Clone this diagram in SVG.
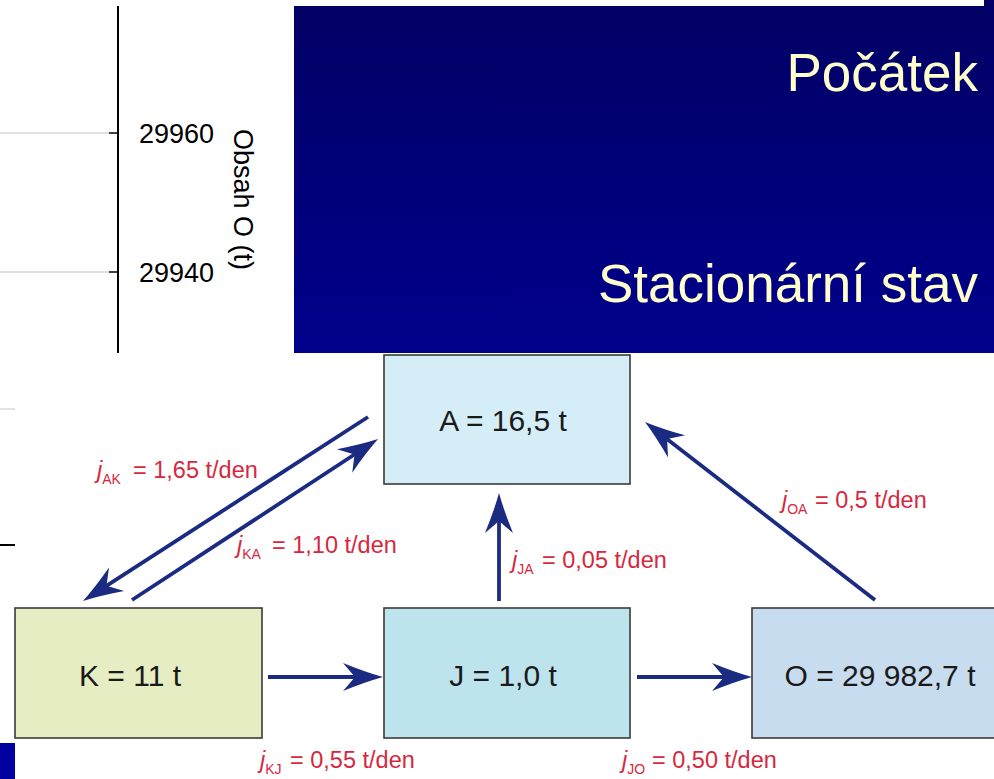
<svg xmlns="http://www.w3.org/2000/svg" width="994" height="779" viewBox="0 0 994 779">
<defs>
<linearGradient id="panelGrad" x1="0" y1="0" x2="0" y2="1">
<stop offset="0" stop-color="#020064"/>
<stop offset="1" stop-color="#00008c"/>
</linearGradient>
<marker id="head" viewBox="-42 -15 44 30" refX="-20" refY="0" markerWidth="44" markerHeight="30" orient="auto" markerUnits="userSpaceOnUse">
<path d="M0,0 Q-18,-5 -40,-14 L-28,0 L-40,14 Q-18,5 0,0 Z" fill="#1c2b82"/>
</marker>
</defs>
<style>
.box{stroke:#3a3a3a;stroke-width:1.6}
.lbl{font-family:"Liberation Sans",Arial,sans-serif;font-size:30px;fill:#1a1a1a;text-anchor:middle}
.flow{font-family:"Liberation Sans",Arial,sans-serif;font-size:23.5px;fill:#d6283e}
.sub{font-size:14px}
.it{font-style:italic}
.arr{stroke:#1c2b82;stroke-width:3.8;fill:none;marker-end:url(#head)}
.ax{font-family:"Liberation Sans",Arial,sans-serif;font-size:27px;fill:#000}
.title{font-family:"Liberation Sans",Arial,sans-serif;font-size:53px;fill:#ffffcc;text-anchor:end}
</style>
<rect width="994" height="779" fill="#ffffff"/>
<g id="chart">
<line x1="0" y1="133" x2="109" y2="133" stroke="#c4c4c4" stroke-width="1.2"/>
<line x1="0" y1="272" x2="109" y2="272" stroke="#c4c4c4" stroke-width="1.2"/>
<line x1="109" y1="133" x2="118" y2="133" stroke="#000" stroke-width="1.5"/>
<line x1="109" y1="272" x2="118" y2="272" stroke="#000" stroke-width="1.5"/>
<line x1="118" y1="6" x2="118" y2="353" stroke="#000" stroke-width="2"/>
<line x1="0" y1="409" x2="15" y2="409" stroke="#d0d0d0" stroke-width="1.2"/>
<line x1="0" y1="545" x2="15" y2="545" stroke="#000" stroke-width="2"/>
<text class="ax" x="139" y="143">29960</text>
<text class="ax" x="139" y="282">29940</text>
<text class="ax" x="234" y="129" font-size="28" transform="rotate(90 234 129)">Obsah O (t)</text>
</g>
<g id="panel">
<rect x="294" y="6" width="700" height="347" fill="url(#panelGrad)"/>
<rect x="984" y="0" width="10" height="6" fill="#020064"/>
<text class="title" x="978" y="91">Počátek</text>
<text class="title" x="978" y="302">Stacionární stav</text>
</g>
<rect x="0" y="743" width="15" height="36" fill="#0000a0"/>
<g id="connectors">
<line class="arr" x1="268" y1="677" x2="363" y2="677"/>
<line class="arr" x1="637" y1="677" x2="732" y2="677"/>
<line class="arr" x1="499" y1="601" x2="499" y2="513"/>
<line class="arr" x1="875" y1="600" x2="660.8" y2="434.2"/>
<line class="arr" x1="368" y1="417" x2="99.8" y2="590.2"/>
<line class="arr" x1="132" y1="600" x2="361.3" y2="450"/>
<text class="flow" x="97" y="478"><tspan class="it">j</tspan><tspan class="sub" dy="6">AK</tspan><tspan x="133" dy="-6">= 1,65 t/den</tspan></text>
<text class="flow" x="237" y="553"><tspan class="it">j</tspan><tspan class="sub" dy="6">KA</tspan><tspan x="272" dy="-6">= 1,10 t/den</tspan></text>
<text class="flow" x="512" y="568"><tspan class="it">j</tspan><tspan class="sub" dy="6">JA</tspan><tspan x="542" dy="-6">= 0,05 t/den</tspan></text>
<text class="flow" x="782" y="508"><tspan class="it">j</tspan><tspan class="sub" dy="6">OA</tspan><tspan x="815" dy="-6">= 0,5 t/den</tspan></text>
<text class="flow" x="260" y="768"><tspan class="it">j</tspan><tspan class="sub" dy="6">KJ</tspan><tspan x="290" dy="-6">= 0,55 t/den</tspan></text>
<text class="flow" x="622" y="768"><tspan class="it">j</tspan><tspan class="sub" dy="6">JO</tspan><tspan x="652" dy="-6">= 0,50 t/den</tspan></text>
</g>
<g id="node-A">
<rect class="box" x="384" y="355" width="246" height="129" fill="#d5edf6"/>
<text class="lbl" x="503" y="431">A = 16,5 t</text>
</g>
<g id="node-K">
<rect class="box" x="15" y="608" width="247" height="130" fill="#e6edc3"/>
<text class="lbl" x="130" y="686">K = 11 t</text>
</g>
<g id="node-J">
<rect class="box" x="384" y="608" width="246" height="130" fill="#bde3ec"/>
<text class="lbl" x="503" y="686">J = 1,0 t</text>
</g>
<g id="node-O">
<rect class="box" x="752" y="608" width="250" height="130" fill="#c7dcef"/>
<text class="lbl" x="880" y="686">O = 29 982,7 t</text>
</g>
</svg>
